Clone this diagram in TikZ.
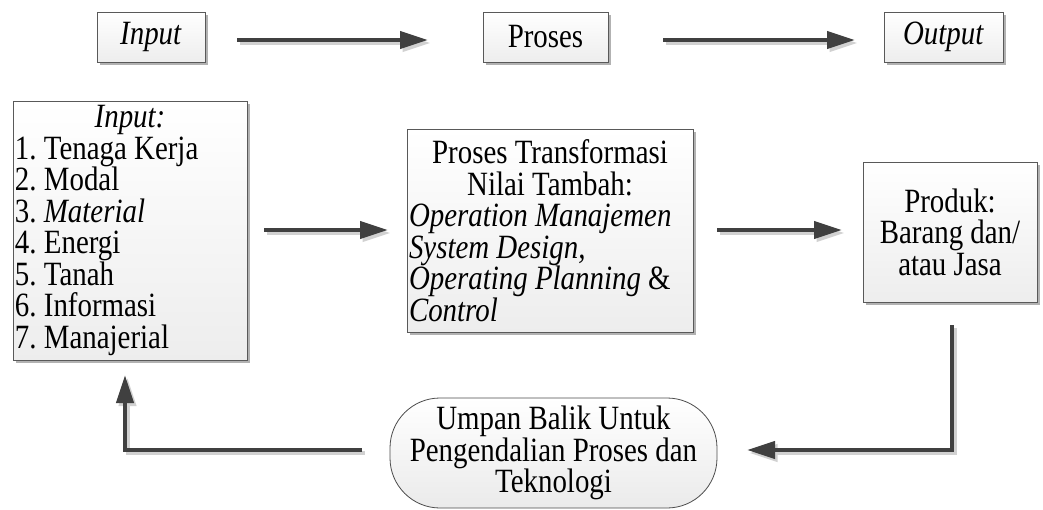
\documentclass[tikz,border=0pt]{standalone}
\usepackage{fontspec}
\setmainfont{Liberation Serif}[FakeStretch=0.85]
\usetikzlibrary{arrows.meta,shadows}
\newcommand\diagfont{\fontsize{34}{31.5}\selectfont\frenchspacing}
% undo the wider word spacing that TikZ sets for aligned node text
\newcommand\plainspaces{\spaceskip=0pt\xspaceskip=0pt\relax}
\tikzset{
  box/.style={draw=black!65, line width=0.8pt, top color=white, bottom color=black!7,
    drop shadow={shadow xshift=3pt, shadow yshift=-3pt, fill=black!30, opacity=1},
    inner sep=0pt, font=\diagfont},
  pill/.style={draw=black!70, line width=0.8pt, top color=white, bottom color=black!8,
    rounded corners=50pt, inner sep=0pt, font=\diagfont, align=center},
  flow/.style={draw=black!75, line width=4pt, -{Triangle[length=28pt,width=17pt]}},
  flowshade/.style={flow, draw=black!18, transform canvas={shift={(2.5pt,-3pt)}}},
}
\begin{document}
\begin{tikzpicture}[x=1pt, y=-1pt]
  \useasboundingbox (0,0) rectangle (1043,510);

  % top row
  \node[box, minimum width=108pt, minimum height=50pt] (tin)  at (151,37)   {\textit{Input}};
  \node[box, minimum width=125pt, minimum height=50pt] (tpro) at (545.5,37) {Proses};
  \node[box, minimum width=119pt, minimum height=50pt] (tout) at (943.5,37) {\textit{Output}};

  % main row
  \node[box, minimum width=234pt, minimum height=259pt, text width=230pt, align=left] (inp) at (130,230.5)
    {\plainspaces\makebox[230pt]{\textit{Input:}}\\
     1. Tenaga Kerja\\
     2. Modal\\
     3. \textit{Material}\\
     4. Energi\\
     5. Tanah\\
     6. Informasi\\
     7. Manajerial};
  \node[box, minimum width=286pt, minimum height=203pt, text width=282pt, align=left] (proc) at (550,230.5)
    {\plainspaces\makebox[282pt]{Proses Transformasi}\\
     \makebox[282pt]{Nilai Tambah:}\\
     \textit{Operation Manajemen}\\
     \textit{System Design,}\\
     \textit{Operating Planning} \&\\
     \textit{Control}};
  \node[box, minimum width=174pt, minimum height=140pt, align=center] (prod) at (950,232)
    {\plainspaces Produk:\\ Barang dan/\\ atau Jasa};

  % feedback
  \node[pill, minimum width=327pt, minimum height=110pt] (fb) at (553.5,453)
    {\plainspaces Umpan Balik Untuk\\ Pengendalian Proses dan\\ Teknologi};

  % connector end points
  \coordinate (a1) at (237,40);  \coordinate (a2) at (428,40);
  \coordinate (b1) at (663,40);  \coordinate (b2) at (855,40);
  \coordinate (c1) at (264,230); \coordinate (c2) at (388,230);
  \coordinate (d1) at (717,230); \coordinate (d2) at (842,230);
  \coordinate (r1) at (952,325); \coordinate (r2) at (952,450); \coordinate (r3) at (747,450);
  \coordinate (l1) at (362,450); \coordinate (l2) at (125,450); \coordinate (l3) at (125,375);

  \foreach \sty in {flowshade, flow} {
    \draw[\sty] (a1) -- (a2);
    \draw[\sty] (b1) -- (b2);
    \draw[\sty] (c1) -- (c2);
    \draw[\sty] (d1) -- (d2);
    \draw[\sty] (r1) -- (r2) -- (r3);
    \draw[\sty] (l1) -- (l2) -- (l3);
  }
\end{tikzpicture}
\end{document}
